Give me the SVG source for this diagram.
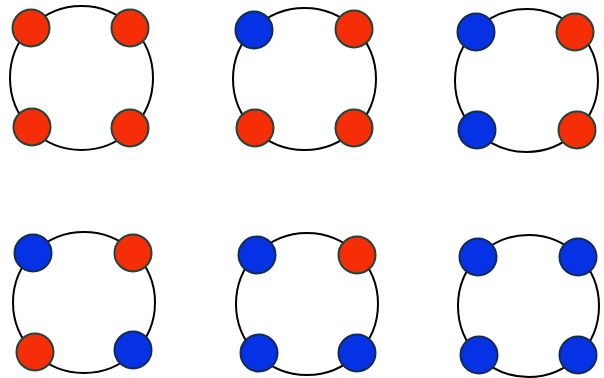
<svg xmlns="http://www.w3.org/2000/svg" width="604" height="378" viewBox="0 0 604 378">
<style>
.ring{fill:#fff;stroke:#000;stroke-width:2}
.r{fill:#f52e08;stroke:#24443a;stroke-width:2}
.b{fill:#0632e6;stroke:#142c50;stroke-width:2}
</style>
<rect width="604" height="378" fill="#fff"/>
<g id="p1">
<ellipse class="ring" cx="81.5" cy="78" rx="71.5" ry="72"/>
<circle class="r" cx="31" cy="28" r="18.5"/>
<circle class="r" cx="130" cy="28" r="18.5"/>
<circle class="r" cx="32" cy="127" r="18.5"/>
<circle class="r" cx="130" cy="128" r="18.5"/>
</g>
<g id="p2">
<ellipse class="ring" cx="304.5" cy="79" rx="71.5" ry="71"/>
<circle class="b" cx="254" cy="30" r="18.5"/>
<circle class="r" cx="354" cy="29" r="18.5"/>
<circle class="r" cx="255" cy="128" r="18.5"/>
<circle class="r" cx="354" cy="128" r="18.5"/>
</g>
<g id="p3">
<ellipse class="ring" cx="526.5" cy="80.5" rx="71.5" ry="71.5"/>
<circle class="b" cx="476" cy="32" r="18.5"/>
<circle class="r" cx="575" cy="32" r="18.5"/>
<circle class="b" cx="477" cy="130" r="18.5"/>
<circle class="r" cx="577" cy="130" r="18.5"/>
</g>
<g id="p4">
<ellipse class="ring" cx="84" cy="302.5" rx="71" ry="70.5"/>
<circle class="b" cx="33" cy="253" r="18.5"/>
<circle class="r" cx="133" cy="253" r="18.5"/>
<circle class="r" cx="35" cy="352" r="18.5"/>
<circle class="b" cx="133" cy="350" r="18.5"/>
</g>
<g id="p5">
<ellipse class="ring" cx="307" cy="304" rx="71" ry="71"/>
<circle class="b" cx="257" cy="255" r="18.5"/>
<circle class="r" cx="357" cy="255" r="18.5"/>
<circle class="b" cx="259" cy="353" r="18.5"/>
<circle class="b" cx="357" cy="353" r="18.5"/>
</g>
<g id="p6">
<ellipse class="ring" cx="528.5" cy="306" rx="70.5" ry="71"/>
<circle class="b" cx="478" cy="257" r="18.5"/>
<circle class="b" cx="578" cy="257" r="18.5"/>
<circle class="b" cx="479" cy="355" r="18.5"/>
<circle class="b" cx="578" cy="355" r="18.5"/>
</g>
<g id="connectors"/>
</svg>
